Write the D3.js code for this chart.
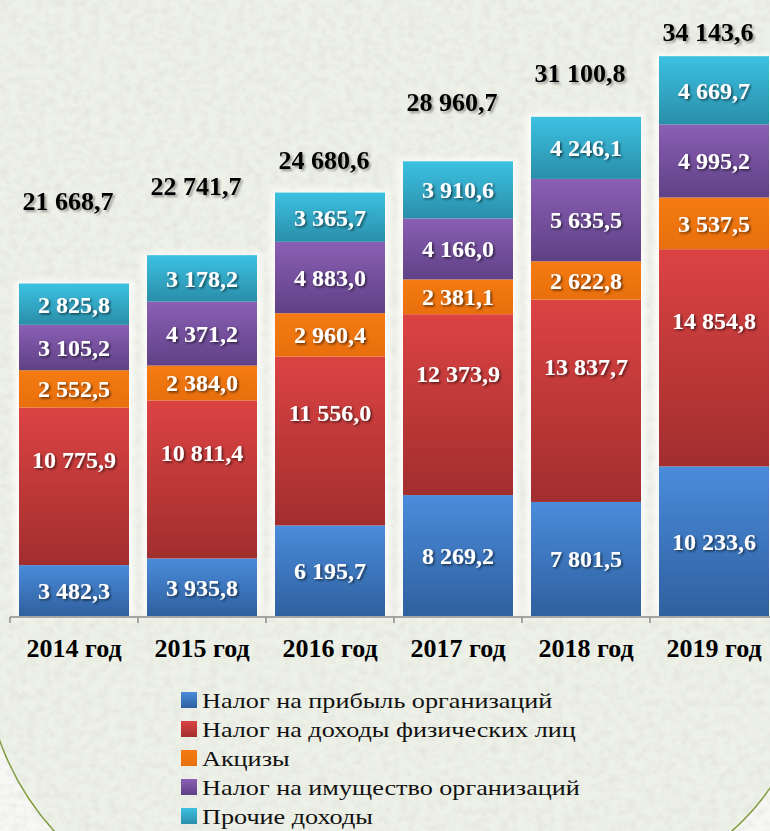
<!DOCTYPE html>
<html>
<head>
<meta charset="utf-8">
<script src="https://cdn.jsdelivr.net/npm/d3@7"></script>
<style>
  html, body { margin: 0; padding: 0; background: #f6f6f3; }
  svg { display: block; }
</style>
</head>
<body>
<svg id="chart"></svg>
<script>
var width = 770;
var height = 831;

// данные
var years = ["2014 год", "2015 год", "2016 год", "2017 год", "2018 год", "2019 год"];
var seriesNames = ["Налог на прибыль организаций", "Налог на доходы физических лиц",
                   "Акцизы", "Налог на имущество организаций", "Прочие доходы"];
var profit   = [3482.3, 3935.8, 6195.7, 8269.2, 7801.5, 10233.6];
var ndfl     = [10775.9, 10811.4, 11556.0, 12373.9, 13837.7, 14854.8];
var excise   = [2552.5, 2384.0, 2960.4, 2381.1, 2622.8, 3537.5];
var property = [3105.2, 4371.2, 4883.0, 4166.0, 5635.5, 4995.2];
var other    = [2825.8, 3178.2, 3365.7, 3910.6, 4246.1, 4669.7];
var totals   = [21668.7, 22741.7, 24680.6, 28960.7, 31100.8, 34143.6];

var keys = ["profit", "ndfl", "excise", "property", "other"];
var colors = [
  ["#4a8cdb", "#2f609f"],
  ["#dc4343", "#a22e2e"],
  ["#f57b12", "#e86f0c"],
  ["#8a5fb5", "#5f4185"],
  ["#3cc1e2", "#2a8ea9"]
];

var rows = years.map((y, i) => ({
  year: y, profit: profit[i], ndfl: ndfl[i], excise: excise[i],
  property: property[i], other: other[i]
}));

var stacked = d3.stack().keys(keys)(rows);

var fmt = d3.formatLocale({decimal: ",", thousands: " ", grouping: [3], currency: ["", ""]}).format(",.1f");

var xScale = d3.scaleBand()
               .domain(years)
               .range([10, 778])
               .paddingInner(0.1406)
               .paddingOuter(0.0703);

var yScale = d3.scaleLinear()
               .domain([0, 40000])
               .range([616, 31.2]);

// подписи итогов стоят как отдельный ряд на своей шкале
var totalScale = d3.scaleLinear()
               .domain([20000, 35000])
               .range([223, 20]);

var serif = "'Liberation Serif', 'Times New Roman', serif";

var svg = d3.select("#chart")
            .attr("width", width)
            .attr("height", height);

var defs = svg.append("defs");

colors.forEach((c, i) => {
  var g = defs.append("linearGradient")
              .attr("id", "grad" + i)
              .attr("x1", 0).attr("y1", 0).attr("x2", 0).attr("y2", 1);
  g.append("stop").attr("offset", "0%").attr("stop-color", c[0]);
  g.append("stop").attr("offset", "100%").attr("stop-color", c[1]);
});

var noise = defs.append("filter").attr("id", "noise")
                .attr("x", 0).attr("y", 0).attr("width", "100%").attr("height", "100%");
noise.append("feTurbulence")
     .attr("type", "fractalNoise")
     .attr("baseFrequency", "0.11 0.13")
     .attr("numOctaves", 3)
     .attr("seed", 4);
noise.append("feColorMatrix")
     .attr("type", "matrix")
     .attr("values", "0 0 0 0 0.6  0 0 0 0 0.61  0 0 0 0 0.57  0 0 0 -1.6 1.0");

var glow = defs.append("filter").attr("id", "glow")
               .attr("x", "-20%").attr("y", "-5%").attr("width", "140%").attr("height", "110%");
glow.append("feGaussianBlur").attr("stdDeviation", 3);

var shadowW = defs.append("filter").attr("id", "shadowW")
                  .attr("x", "-10%").attr("y", "-20%").attr("width", "130%").attr("height", "150%");
shadowW.append("feDropShadow")
       .attr("dx", 1.5).attr("dy", 1.5).attr("stdDeviation", 1)
       .attr("flood-color", "#000").attr("flood-opacity", 0.6);

var shadowB = defs.append("filter").attr("id", "shadowB")
                  .attr("x", "-10%").attr("y", "-20%").attr("width", "130%").attr("height", "150%");
shadowB.append("feDropShadow")
       .attr("dx", 2).attr("dy", 2).attr("stdDeviation", 1.2)
       .attr("flood-color", "#000").attr("flood-opacity", 0.35);

// фон
svg.append("rect")
   .attr("width", width).attr("height", height)
   .attr("fill", "#f7f7f5");

svg.append("path")
   .attr("d", "M -20,-20 H 809 V 661 A 226,226 0 0 1 583,887 L 253,919 A 269,269 0 0 1 -16,650 Z")
   .attr("fill", "#eef1e8")
   .attr("stroke", "#7a9a35")
   .attr("stroke-width", 1.5);

svg.append("rect")
   .attr("width", width).attr("height", height)
   .attr("filter", "url(#noise)")
   .attr("opacity", 0.35);

// белое свечение вокруг столбцов
svg.append("g")
   .selectAll("rect")
   .data(rows)
   .enter()
   .append("rect")
     .attr("x", d => xScale(d.year) - 4)
     .attr("y", (d, i) => yScale(stacked[4][i][1]) - 2)
     .attr("width", xScale.bandwidth() + 8)
     .attr("height", (d, i) => yScale(0) - yScale(stacked[4][i][1]) + 2)
     .attr("fill", "#ffffff")
     .attr("opacity", 0.9)
     .attr("filter", "url(#glow)");

// столбцы
var layers = svg.append("g")
   .selectAll("g")
   .data(stacked)
   .enter()
   .append("g")
     .attr("fill", (d, i) => "url(#grad" + i + ")");

layers.selectAll("rect")
   .data(d => d)
   .enter()
   .append("rect")
     .attr("x", d => xScale(d.data.year))
     .attr("y", d => yScale(d[1]))
     .attr("width", xScale.bandwidth())
     .attr("height", d => yScale(d[0]) - yScale(d[1]));

// подписи сегментов
layers.each(function (layer, li) {
  var pos = li === 1 ? 0.33 : 0.5;
  d3.select(this).selectAll("text")
    .data(layer)
    .enter()
    .append("text")
      .attr("x", d => xScale(d.data.year) + xScale.bandwidth() / 2)
      .attr("y", d => yScale(d[1]) + (yScale(d[0]) - yScale(d[1])) * pos)
      .attr("dy", "0.35em")
      .attr("text-anchor", "middle")
      .attr("fill", "#ffffff")
      .attr("font-family", serif)
      .attr("font-weight", "bold")
      .attr("font-size", "24px")
      .attr("filter", "url(#shadowW)")
      .text(d => fmt(d[1] - d[0]));
});

// итоги
svg.append("g")
   .selectAll("text")
   .data(totals)
   .enter()
   .append("text")
     .attr("x", (d, i) => xScale(years[i]) + xScale.bandwidth() / 2 - 6)
     .attr("y", d => totalScale(d))
     .attr("dy", "0.35em")
     .attr("text-anchor", "middle")
     .attr("fill", "#000000")
     .attr("font-family", serif)
     .attr("font-weight", "bold")
     .attr("font-size", "26px")
     .attr("filter", "url(#shadowB)")
     .text(d => fmt(d));

// ось X
var axis = svg.append("g");
axis.append("line")
    .attr("x1", xScale.range()[0]).attr("x2", width)
    .attr("y1", yScale(0) + 1).attr("y2", yScale(0) + 1)
    .attr("stroke", "#8c8c8c")
    .attr("stroke-width", 1.5);

axis.selectAll(".tick")
    .data(d3.range(years.length + 1))
    .enter()
    .append("line")
      .attr("x1", i => xScale.range()[0] + i * xScale.step())
      .attr("x2", i => xScale.range()[0] + i * xScale.step())
      .attr("y1", yScale(0) + 1)
      .attr("y2", yScale(0) + 7)
      .attr("stroke", "#8c8c8c")
      .attr("stroke-width", 1.5);

axis.selectAll("text")
    .data(years)
    .enter()
    .append("text")
      .attr("x", d => xScale(d) + xScale.bandwidth() / 2)
      .attr("y", 657)
      .attr("text-anchor", "middle")
      .attr("fill", "#000000")
      .attr("font-family", serif)
      .attr("font-weight", "bold")
      .attr("font-size", "26px")
      .text(d => d);

// легенда
var legend = svg.append("g")
                .attr("transform", "translate(181, 692)");

var items = legend.selectAll("g")
    .data(seriesNames)
    .enter()
    .append("g")
      .attr("transform", (d, i) => "translate(0," + i * 29 + ")");

items.append("rect")
     .attr("width", 16)
     .attr("height", 16)
     .attr("fill", (d, i) => "url(#grad" + i + ")");

items.append("text")
     .attr("transform", "translate(21, 8) scale(1.19, 1)")
     .attr("dy", "0.35em")
     .attr("fill", "#111111")
     .attr("font-family", serif)
     .attr("font-size", "22px")
     .text(d => d);
</script>
</body>
</html>
